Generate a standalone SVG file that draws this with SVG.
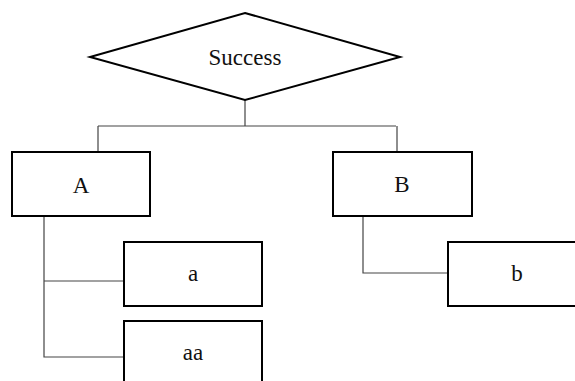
<svg xmlns="http://www.w3.org/2000/svg" width="575" height="381" viewBox="0 0 575 381">
<style>
.n{fill:#fff;stroke:#000;stroke-width:2}
.c{fill:none;stroke:#444;stroke-width:1.2}
text{font-family:"Liberation Serif","DejaVu Serif",serif;font-size:23px;fill:#111;text-anchor:middle;dominant-baseline:central}
</style>
<rect width="575" height="381" fill="#fff"/>
<g id="connectors">
<path class="c" d="M245,100V126M98,126H396M98,126V152M397,126V152"/>
<path class="c" d="M44,216V357H124M44,281H124"/>
<path class="c" d="M363,216V273H448"/>
</g>
<g id="success"><polygon class="n" points="245,13 400,57 245,100 90,57"/><text x="245" y="57">Success</text></g>
<g id="A"><rect class="n" x="12" y="152" width="138" height="64"/><text x="81" y="185">A</text></g>
<g id="B"><rect class="n" x="333" y="152" width="139" height="64"/><text x="402" y="184">B</text></g>
<g id="a"><rect class="n" x="124" y="242" width="138" height="64"/><text x="193" y="273">a</text></g>
<g id="aa"><rect class="n" x="124" y="321" width="138" height="64"/><text x="193" y="352">aa</text></g>
<g id="b"><rect class="n" x="448" y="242" width="139" height="64"/><text x="517" y="273">b</text></g>
</svg>
